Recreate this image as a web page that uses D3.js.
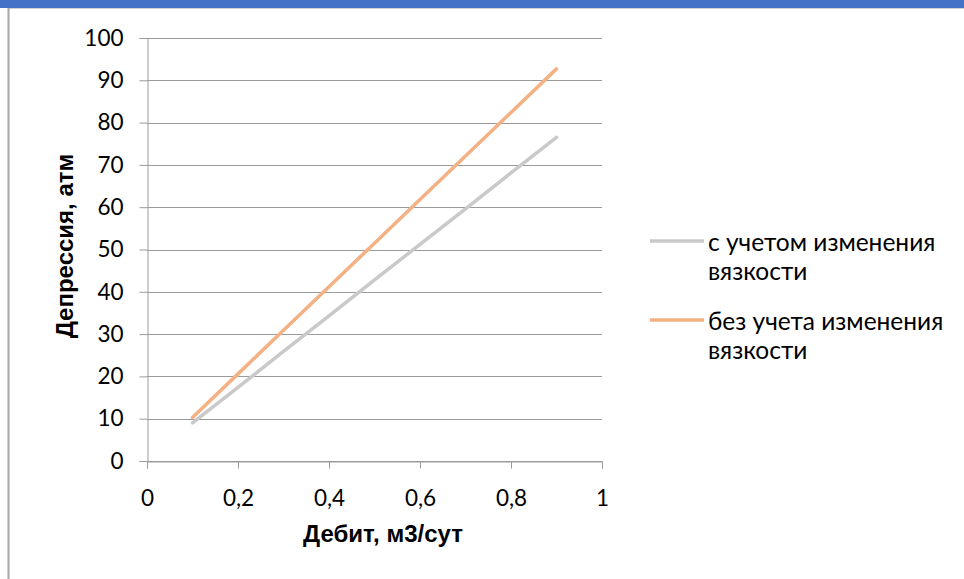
<!DOCTYPE html>
<html>
<head>
<meta charset="utf-8">
<script src="https://cdn.jsdelivr.net/npm/d3@7"></script>
<style>
html,body{margin:0;padding:0;background:#fff;}
svg{display:block;}
</style>
</head>
<body>
<svg id="chart" width="964" height="579"></svg>
<script>
const xValues = [0.1, 0.2, 0.3, 0.4, 0.5, 0.6, 0.7, 0.8, 0.9];
const withViscosity = [9.0, 17.4, 25.9, 34.3, 42.8, 51.2, 59.6, 68.1, 76.5];
const withoutViscosity = [10.3, 20.6, 30.9, 41.2, 51.5, 61.8, 72.1, 82.4, 92.7];
const seriesNames = ["с учетом изменения вязкости", "без учета изменения вязкости"];
const xTicks = [0, 0.2, 0.4, 0.6, 0.8, 1];
const yTicks = [0, 10, 20, 30, 40, 50, 60, 70, 80, 90, 100];
const xTitle = "Дебит, м3/сут";
const yTitle = "Депрессия, атм";

const svg = d3.select("#chart");
const W = 964, H = 579;
const tickFont = "Lato, 'Open Sans', sans-serif";
const titleFont = "'Liberation Sans', Arial, sans-serif";
const fs = 22.5;

// frame
svg.append("rect").attr("x",0).attr("y",0).attr("width",W).attr("height",8).attr("fill","#4472C4");
svg.append("line").attr("x1",8).attr("x2",W).attr("y1",8.5).attr("y2",8.5).attr("stroke","#d0d0d0");
svg.append("line").attr("x1",8.5).attr("x2",8.5).attr("y1",8).attr("y2",H).attr("stroke","#a6a6a6").attr("stroke-width",2);

const x = d3.scaleLinear().domain([0,1]).range([147,602]);
const y = d3.scaleLinear().domain([0,100]).range([461,38]);

// gridlines
svg.append("g").selectAll("line").data(yTicks).join("line")
  .attr("x1", x(0)).attr("x2", x(1))
  .attr("y1", d => Math.round(y(d))+0.5).attr("y2", d => Math.round(y(d))+0.5)
  .attr("stroke","#9b9b9b").attr("stroke-width",1);

// y axis
const yAxis = svg.append("g").attr("transform",`translate(${x(0)+0.5},0)`)
  .call(d3.axisLeft(y).tickValues(yTicks).tickSize(8).tickPadding(16).tickFormat(d=>d));
yAxis.select(".domain").attr("stroke","#9b9b9b");
yAxis.selectAll(".tick line").attr("stroke","#9b9b9b");
yAxis.selectAll("text").attr("font-family",tickFont).attr("font-size",fs).attr("fill","#000");

// x axis
const fmt = d => String(d).replace(".", ",");
const xAxis = svg.append("g").attr("transform",`translate(0,${Math.round(y(0))+0.5})`)
  .call(d3.axisBottom(x).tickValues(xTicks).tickSize(7).tickPadding(22).tickFormat(fmt));
xAxis.select(".domain").attr("stroke","#9b9b9b");
xAxis.selectAll(".tick line").attr("stroke","#9b9b9b");
xAxis.selectAll("text").attr("font-family",tickFont).attr("font-size",fs).attr("fill","#000");

// series
const colors = ["#C9C9C9", "#F4B183"];
const seriesData = [withViscosity, withoutViscosity];
const line = d3.line().x((d,i)=>x(xValues[i])).y(d=>y(d));
seriesData.forEach((s,k)=>{
  svg.append("path").datum(s).attr("d",line).attr("fill","none")
    .attr("stroke",colors[k]).attr("stroke-width",3.5).attr("stroke-linecap","round");
});

// axis titles
svg.append("text").attr("x",383).attr("y",542).attr("text-anchor","middle")
  .attr("font-family",titleFont).attr("font-weight","bold").attr("font-size",24).attr("fill","#000").text(xTitle);
svg.append("text").attr("transform","translate(73,246) rotate(-90)").attr("text-anchor","middle")
  .attr("font-family",titleFont).attr("font-weight","bold").attr("font-size",24).attr("fill","#000").text(yTitle);

// legend
const legendY = [241, 320];
const legendLines = [["с учетом изменения","вязкости"],["без учета изменения","вязкости"]];
legendY.forEach((ly,k)=>{
  svg.append("line").attr("x1",650).attr("x2",704).attr("y1",ly).attr("y2",ly)
    .attr("stroke",colors[k]).attr("stroke-width",3.5);
  const t = svg.append("text").attr("x",708).attr("y",ly+10).attr("font-family",tickFont)
    .attr("font-size",24.5).attr("fill","#000");
  legendLines[k].forEach((s,j)=>{
    t.append("tspan").attr("x",708).attr("dy", j===0?0:29).text(s);
  });
});
</script>
</body>
</html>
